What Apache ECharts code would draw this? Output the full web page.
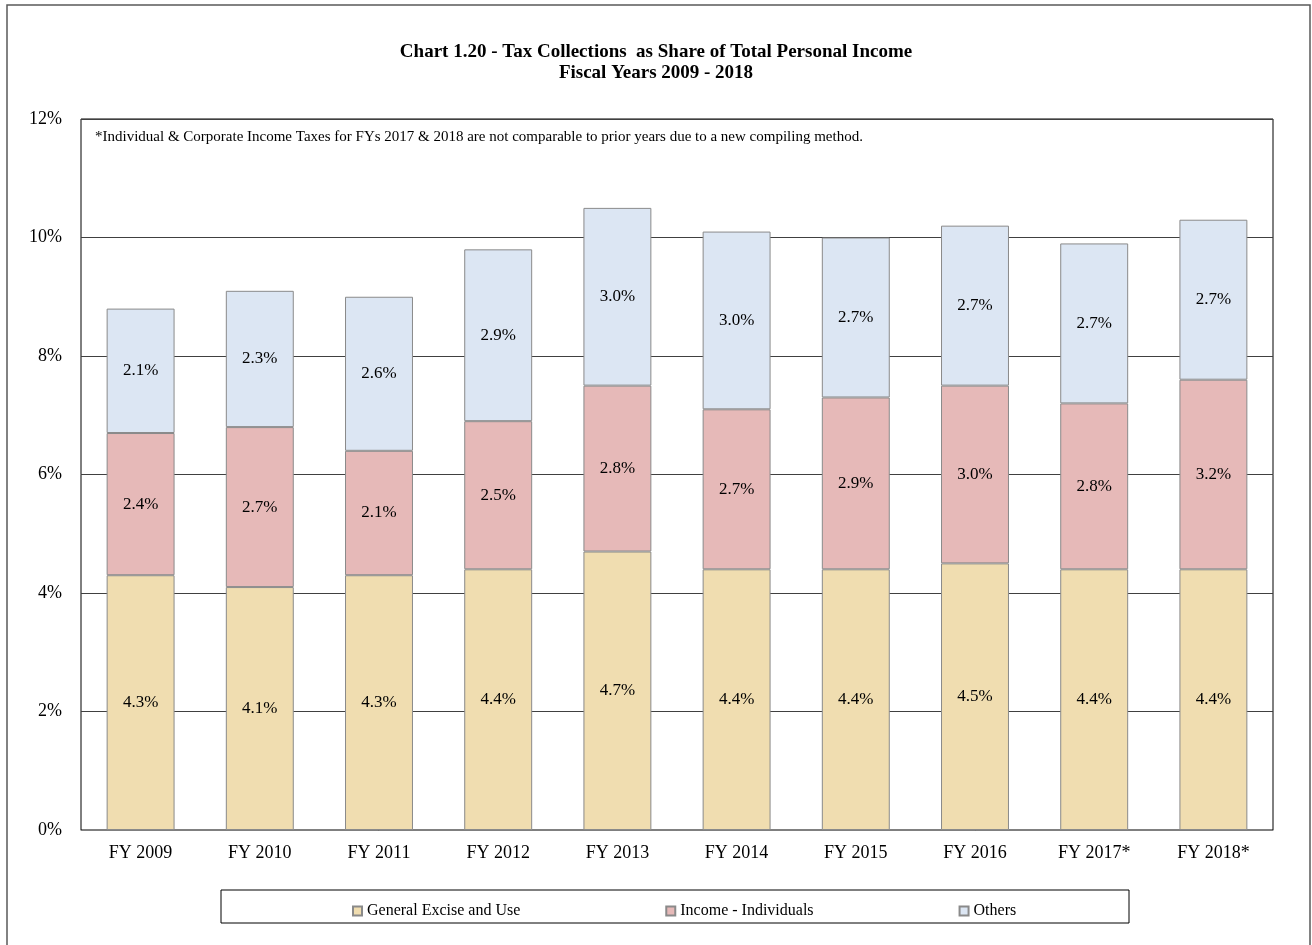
<!DOCTYPE html>
<html>
<head>
<meta charset="utf-8">
<script src="https://cdn.jsdelivr.net/npm/echarts@6/dist/echarts.min.js"></script>
<style>
  html, body { margin: 0; padding: 0; background: #fff; }
  #chart { width: 1312px; height: 945px; }
</style>
</head>
<body>
<div id="chart"></div>
<script>
const years = ["FY 2009", "FY 2010", "FY 2011", "FY 2012", "FY 2013",
               "FY 2014", "FY 2015", "FY 2016", "FY 2017*", "FY 2018*"];
const exciseUse = [4.3, 4.1, 4.3, 4.4, 4.7, 4.4, 4.4, 4.5, 4.4, 4.4];
const incomeInd = [2.4, 2.7, 2.1, 2.5, 2.8, 2.7, 2.9, 3.0, 2.8, 3.2];
const others    = [2.1, 2.3, 2.6, 2.9, 3.0, 3.0, 2.7, 2.7, 2.7, 2.7];
const totals    = [8.8, 9.1, 9.0, 9.8, 10.5, 10.1, 10.0, 10.2, 10.0, 10.3];

const serif = "Liberation Serif";
const pct = p => p.value.toFixed(1) + "%";

function stackBar(name, data, color) {
  return {
    name: name,
    type: "bar",
    stack: "tax",
    barWidth: "57%",
    data: data,
    itemStyle: { color: color, borderColor: "#8a8a8a", borderWidth: 1 },
    label: {
      show: true, position: "inside", formatter: pct,
      color: "#000", fontFamily: serif, fontSize: 17
    }
  };
}

const chart = echarts.init(document.getElementById("chart"), null, { renderer: "canvas" });

chart.setOption({
  animation: false,
  backgroundColor: "#fff",
  title: {
    text: "Chart 1.20 - Tax Collections  as Share of Total Personal Income\nFiscal Years 2009 - 2018",
    left: "center",
    top: 37,
    textStyle: { fontFamily: serif, fontWeight: "bold", fontSize: 19, lineHeight: 21, color: "#000" }
  },
  grid: {
    left: 81, right: 39, top: 119, bottom: 115,
    show: true, borderColor: "#000", borderWidth: 1
  },
  xAxis: {
    type: "category",
    data: years,
    axisTick: { show: false },
    axisLine: { lineStyle: { color: "#7f7f7f" } },
    axisLabel: { color: "#000", fontFamily: serif, fontSize: 18, margin: 14 }
  },
  yAxis: {
    type: "value",
    min: 0, max: 12, interval: 2,
    axisLine: { show: false },
    axisTick: { show: false },
    splitLine: { lineStyle: { color: "#404040", width: 1 } },
    axisLabel: { formatter: "{value}%", color: "#000", fontFamily: serif, fontSize: 18, margin: 19 }
  },
  legend: {
    left: 347,
    top: 898,
    icon: "rect",
    itemWidth: 9,
    itemHeight: 9,
    itemGap: 145,
    itemTextGap: 2,
    textStyle: { fontFamily: serif, fontSize: 16, color: "#000" },
    data: ["General Excise and Use", "Income - Individuals", "Others"]
  },
  graphic: [
    {
      type: "rect", silent: true,
      shape: { x: 7, y: 5, width: 1303, height: 960 },
      style: { fill: null, stroke: "#595959", lineWidth: 1.5 }
    },
    {
      type: "rect", silent: true,
      shape: { x: 221, y: 890, width: 908, height: 33 },
      style: { fill: null, stroke: "#000", lineWidth: 1 }
    },
    {
      type: "text", silent: true, left: 95, top: 130,
      style: {
        text: "*Individual & Corporate Income Taxes for FYs 2017 & 2018 are not comparable to prior years due to a new compiling method.",
        font: "15px " + serif, fill: "#000"
      }
    }
  ],
  series: [
    stackBar("General Excise and Use", exciseUse, "#F0DDB0"),
    stackBar("Income - Individuals", incomeInd, "#E6B9B8"),
    stackBar("Others", others, "#DCE6F3"),
    {
      name: "Total",
      type: "line",
      data: totals,
      symbol: "none",
      lineStyle: { opacity: 0 },
      label: {
        show: true, position: "top", distance: 12, formatter: pct,
        color: "#000", fontFamily: serif, fontSize: 17
      },
      z: 5
    }
  ]
});
</script>
</body>
</html>
